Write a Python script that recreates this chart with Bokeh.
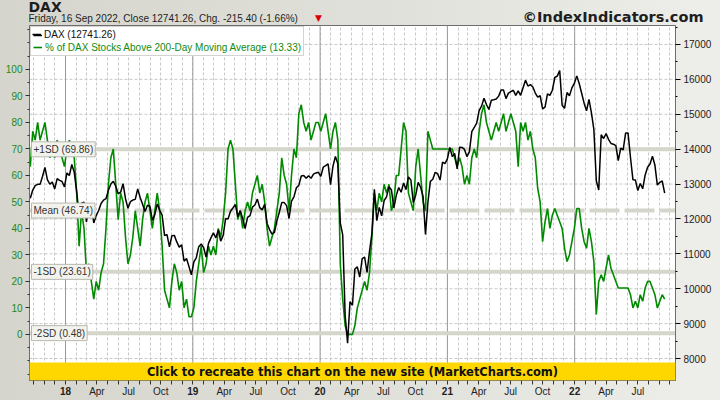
import pandas as pd
from bokeh.plotting import figure
from bokeh.layouts import column
from bokeh.models import (Range1d, LinearAxis, FixedTicker, Span, Label,
                          BoxAnnotation, Legend, LegendItem)
from bokeh.embed import file_html
from bokeh.resources import INLINE
from bokeh.core.properties import value

# ---------------- data (weekly, Fridays, ending 16 Sep 2022) ----------------
last_date = "2022-09-16"

dax_close = [
    # 2017 Sep-Dec
    12592, 12829, 12956, 12992, 12991, 13217, 13479, 13127, 12994, 13060, 12861, 13153, 13104, 13072, 12918,
    # 2018
    13320, 13245, 13560, 13340,
    12785, 12107, 12452, 12483,
    11914, 12346, 12390, 11886, 12097,
    12241, 12442, 12540, 12580,
    12820, 13001, 13077, 12938,
    12724, 12767, 13010, 12580, 12306,
    12496, 12541, 12561, 12860,
    12615, 12424, 12211, 12394, 12364,
    11959, 12124, 12431, 12247,
    12111, 11523, 11553, 11201,
    11519, 11529, 11341, 11193, 11257,
    10788, 10865, 10634, 10400,
    # 2019
    10767, 10887, 11205, 11282,
    11180, 10906, 11299, 11457,
    11602, 11458, 11686, 11364, 11526,
    12010, 11999, 12222, 12315,
    12413, 12060, 12239, 12011, 11727,
    12045, 12096, 12340, 12399,
    12568, 12323, 12260, 12419,
    11872, 11694, 11563, 11612, 11939,
    12192, 12469, 12468, 12381,
    12013, 12512, 12634, 12895,
    12962, 13229, 13242, 13164, 13236,
    13166, 13283, 13319, 13337,
    # 2020
    13219, 13483, 13526, 13577, 12982,
    13514, 13790, 13579, 11890,
    11542, 9232, 8442, 9633,
    9525, 10565, 10626, 10336,
    10861, 10904, 10465, 11074, 11587,
    12848, 11949, 12331, 12089,
    12528, 12633, 12920, 12838, 12313,
    12675, 12901, 12765, 13033,
    12842, 13203, 13116, 12469,
    12689, 13051, 12909, 12646, 11556,
    12480, 13077, 13137, 13335,
    13298, 13114, 13630, 13587,
    # 2021
    13719, 14049, 13787, 13873, 13433,
    14056, 14050, 13993, 13786,
    13920, 14502, 14621, 14749,
    15107, 15234, 15460, 15280, 15136,
    15400, 15417, 15437, 15520,
    15693, 15693, 15448, 15607,
    15650, 15688, 15540, 15669, 15544,
    15761, 15977, 15808, 15852,
    15781, 15609, 15490, 15531,
    15156, 15206, 15587, 15542, 15688,
    16054, 16094, 16250, 15257,
    15170, 15623, 15532, 15756, 15885,
    # 2022
    16100, 15883, 15603, 15318,
    15100, 15425, 15042, 14567,
    13094, 12831, 14413, 14305,
    14446, 14283, 14164, 14142, 14098,
    13674, 14027, 13982, 14462,
    14460, 13762, 13126, 13118,
    12813, 13015, 12864, 13254, 13484,
    13573, 13795, 13544, 12971,
    13050, 13088, 12741.26,
]

pct_above = [
    # 2017 Sep-Dec
    63.33, 76.67, 73.33, 80, 73.33, 76.67, 80, 73.33, 66.67, 70, 66.67, 73.33, 70, 66.67, 63.33,
    # 2018
    70, 73.33, 70, 66.67,
    53.33, 33.33, 46.67, 40,
    23.33, 26.67, 20, 13.33, 20,
    16.67, 23.33, 26.67, 40,
    56.67, 66.67, 70, 56.67,
    43.33, 53.33, 50, 36.67, 26.67,
    30, 36.67, 46.67, 40,
    33.33, 43.33, 50, 53.33, 46.67,
    40, 46.67, 53.33, 46.67,
    33.33, 16.67, 13.33, 10,
    20, 26.67, 23.33, 16.67, 20,
    10, 13.33, 6.67, 6.67,
    # 2019
    10, 20, 26.67, 33.33,
    23.33, 26.67, 33.33, 30,
    33.33, 30, 40, 36.67, 43.33,
    53.33, 70, 73.33, 70,
    56.67, 43.33, 46.67, 40, 46.67,
    50, 46.67, 53.33, 56.67,
    60, 53.33, 56.67, 50,
    40, 33.33, 36.67, 40, 46.67,
    53.33, 66.67, 60, 56.67,
    46.67, 60, 70, 66.67,
    83.33, 86.67, 80, 76.67, 80,
    73.33, 76.67, 80, 80,
    # 2020
    76.67, 80, 83.33, 76.67, 70,
    76.67, 80, 73.33, 26.67,
    13.33, 3.33, 0, 0,
    0, 3.33, 10, 13.33,
    16.67, 20, 16.67, 23.33, 36.67,
    53.33, 46.67, 53.33, 50,
    56.67, 53.33, 56.67, 46.67, 50,
    60, 60, 70, 80,
    76.67, 53.33, 50, 46.67,
    63.33, 70, 60, 50, 46.67,
    76.67, 73.33, 70, 70,
    70, 70, 70, 70,
    # 2021
    70, 70, 70, 66.67, 63.33,
    66.67, 63.33, 56.67, 60,
    56.67, 66.67, 70, 66.67,
    76.67, 83.33, 86.67, 80, 76.67,
    73.33, 76.67, 80, 76.67,
    80, 83.33, 76.67, 80,
    83.33, 80, 76.67, 63.33, 80,
    76.67, 80, 73.33, 76.67,
    70, 66.67, 55, 50,
    35, 42.5, 47.5, 40, 45,
    47.5, 45, 42.5, 40,
    32.5, 27.5, 30, 35, 40,
    # 2022
    47.5, 47.5, 40, 35,
    32.5, 40, 35, 27.5,
    7.5, 20, 22.5, 20,
    25, 30, 25, 22.5, 20,
    17.5, 17.5, 17.5, 17.5,
    17.5, 15, 10, 12.5,
    10, 15, 12.5, 17.5, 20,
    20, 17.5, 15, 10,
    12.5, 15, 13.33,
]

sd_levels = [69.86, 46.74, 23.61, 0.48]
sd_labels = ["+1SD (69.86)", "Mean (46.74)", "-1SD (23.61)", "-2SD (0.48)"]
pct_ticks = [0, 10, 20, 30, 40, 50, 60, 70, 80, 90, 100]
price_ticks = [8000, 9000, 10000, 11000, 12000, 13000, 14000, 15000, 16000, 17000]
month_names = {4: "Apr", 7: "Jul", 10: "Oct"}

title_text = "DAX"
subtitle_text = "Friday, 16 Sep 2022, Close 12741.26, Chg. -215.40 (-1.66%)"
credit_text = "\u00a9IndexIndicators.com"
banner_text = "Click to recreate this chart on the new site (MarketCharts.com)"
legend_dax = "DAX (12741.26)"
legend_pct = "% of DAX Stocks Above 200-Day Moving Average (13.33)"

# ---------------- helpers ----------------
def fy(d):
    d = pd.Timestamp(d)
    s = pd.Timestamp(d.year, 1, 1)
    e = pd.Timestamp(d.year + 1, 1, 1)
    return d.year + (d - s) / (e - s)

dax_x = [fy(d) for d in pd.date_range(end=last_date, periods=len(dax_close), freq="W-FRI")]
pct_x = [fy(d) for d in pd.date_range(end=last_date, periods=len(pct_above), freq="W-FRI")]

X0, X1 = 2017.717, 2022.792
PCT_RANGE = (-17.4, 116.6)
PRICE_RANGE = (7370, 17544)
BANNER_TOP = 7885

months = []
for yr in range(2017, 2023):
    for m in range(1, 13):
        v = fy(pd.Timestamp(yr, m, 1))
        if X0 < v < X1:
            months.append((yr, m, v))
month_ticks = [v for _, _, v in months]
year_ticks = [v for _, m, v in months if m == 1]

W = 720
BL, BR = 29, 45
FW, FH = W - BL - BR, 355
HEAD_H, BOT_B, FOOT_H = 25, 6, 14
FONT = "Liberation Sans"
BOLD = "DejaVu Sans"
BG_CSS = {"background": "linear-gradient(to right, #d5d5cd 0%, #e1e1db 55%, #eeeeea 100%)"}

# ---------------- header strip ----------------
head = figure(width=W, height=HEAD_H, x_range=Range1d(0, W), y_range=Range1d(HEAD_H, 0),
              min_border=0, x_axis_location=None, y_axis_location=None,
              output_backend="svg", toolbar_location=None, title=None)
head.frame_align = False
head.grid.visible = False
head.outline_line_color = None
head.background_fill_alpha = 0
head.border_fill_alpha = 0
head.styles = BG_CSS
head.text(x=[28], y=[6.5], text=[title_text], text_baseline="middle",
          text_font=value(BOLD), text_font_style="bold", text_font_size="14px",
          text_color="#1e1e1e")
head.text(x=[28], y=[17.5], text=[subtitle_text], text_baseline="middle",
          text_font=value(FONT), text_font_size="10px", text_color="#1e1e1e")
head.text(x=[318], y=[17.5], text=["\u25bc"], text_baseline="middle", text_align="center",
          text_font=value(BOLD), text_font_size="9px", text_color="#dd0000")
head.text(x=[703], y=[16.5], text=[credit_text], text_baseline="middle", text_align="right",
          text_font=value(BOLD), text_font_style="bold", text_font_size="14.5px",
          text_color="#1e1e1e")

# ---------------- main chart ----------------
p = figure(frame_width=FW, frame_height=FH,
           min_border_left=BL, min_border_right=BR, min_border_top=0, min_border_bottom=BOT_B,
           x_range=Range1d(X0, X1), y_range=Range1d(*PCT_RANGE),
           output_backend="svg", toolbar_location=None, title=None)
p.extra_y_ranges = {"price": Range1d(*PRICE_RANGE)}
p.border_fill_alpha = 0
p.styles = BG_CSS
p.background_fill_color = "#ffffff"
p.outline_line_color = "#6e6e6e"

# grids
p.ygrid.visible = False
p.xgrid.ticker = FixedTicker(ticks=month_ticks)
p.xgrid.grid_line_color = "#c8c8c8"
p.xgrid.grid_line_dash = "3 2"
for v in price_ticks:
    p.add_layout(Span(location=v, dimension="width", y_range_name="price",
                      line_color="#c8c8c8", line_dash="3 2", line_width=1, level="underlay"))
for v in year_ticks:
    p.add_layout(Span(location=v, dimension="height", line_color="#9a9a9a",
                      line_width=1, level="underlay"))
for lvl, lab in zip(sd_levels, sd_labels):
    p.add_layout(Span(location=lvl, dimension="width", line_color="#d5d5cc", line_width=4,
                      line_dash="30 5" if lab.startswith("Mean") else "solid", level="underlay"))

# axes
xa = p.xaxis[0]
xa.ticker = FixedTicker(ticks=[], minor_ticks=month_ticks)
xa.major_label_standoff = 0
xa.minor_tick_out = 4
xa.minor_tick_in = 0
xa.major_tick_out = 4
xa.major_tick_in = 0
xa.axis_line_color = "#6e6e6e"
xa.minor_tick_line_color = "#333333"

ya = p.yaxis[0]
ya.ticker = FixedTicker(ticks=pct_ticks, minor_ticks=list(range(-15, 116, 5)))
ya.major_label_text_color = "#1a8a1a"
ya.major_label_text_font = FONT
ya.major_label_text_font_size = "10px"
ya.major_label_standoff = 3
ya.major_tick_out = 4
ya.major_tick_in = 0
ya.minor_tick_out = 2
ya.minor_tick_in = 0
ya.axis_line_color = "#6e6e6e"
ya.major_tick_line_color = "#333333"
ya.minor_tick_line_color = "#333333"

ra = LinearAxis(y_range_name="price",
                ticker=FixedTicker(ticks=price_ticks, minor_ticks=[t + 500 for t in price_ticks]))
ra.major_label_text_font = FONT
ra.major_label_text_font_size = "10px"
ra.major_label_text_color = "#222222"
ra.major_label_standoff = 3
ra.major_tick_out = 5
ra.major_tick_in = 0
ra.minor_tick_out = 2
ra.minor_tick_in = 0
ra.axis_line_color = "#6e6e6e"
p.add_layout(ra, "right")

# data lines
r_pct = p.line(pct_x, pct_above, line_color="#008a00", line_width=1.6)
r_dax = p.line(dax_x, dax_close, y_range_name="price", line_color="#000000", line_width=1.5)

# SD labels
for lvl, lab in zip(sd_levels, sd_labels):
    p.add_layout(Label(x=2, x_units="screen", y=lvl, text=lab, text_baseline="middle",
                       text_font=FONT, text_font_size="10px", text_color="#333333",
                       background_fill_color="#f3f3ee", border_line_color="#b8b8b0",
                       padding=2))

# banner
p.add_layout(BoxAnnotation(top=BANNER_TOP, y_range_name="price", fill_color="#ffd700",
                           fill_alpha=1, line_color=None))
p.add_layout(Label(x=FW / 2, x_units="screen", y=(BANNER_TOP + PRICE_RANGE[0]) / 2,
                   y_range_name="price", text=banner_text, text_align="center",
                   text_baseline="middle", text_font=BOLD, text_font_style="bold",
                   text_font_size="11.5px", text_color="#111111"))

# legends (one box, two text colours)
common = dict(location="top_left", margin=1, padding=2, spacing=0, label_height=12,
              glyph_height=12, glyph_width=9, label_standoff=3,
              label_text_font=FONT, label_text_font_size="10px")
leg2 = Legend(items=[LegendItem(label=" ", renderers=[r_dax]),
                     LegendItem(label=legend_pct, renderers=[r_pct])],
              label_text_color="#108a10", background_fill_color="#ffffff",
              background_fill_alpha=1, border_line_color="#a8a8a8", **common)
leg1 = Legend(items=[LegendItem(label=legend_dax, renderers=[r_dax])],
              label_text_color="#111111", background_fill_alpha=0,
              border_line_alpha=0, **common)
p.add_layout(leg2, "center")
p.add_layout(leg1, "center")

# ---------------- footer strip: date labels ----------------
lab_x, lab_t, yr_x, yr_t = [], [], [], []
for yr, m, v in months:
    if v < X0 + 0.1 or v > X1 - 0.1:
        continue
    if m == 1:
        yr_x.append(v); yr_t.append(str(yr)[2:])
    elif m in month_names:
        lab_x.append(v); lab_t.append(month_names[m])

foot = figure(width=W, height=FOOT_H, x_range=p.x_range, y_range=Range1d(FOOT_H, 0),
              min_border_left=BL, min_border_right=BR, min_border_top=0, min_border_bottom=0,
              x_axis_location=None, y_axis_location=None,
              output_backend="svg", toolbar_location=None, title=None)
foot.grid.visible = False
foot.outline_line_color = None
foot.background_fill_alpha = 0
foot.border_fill_alpha = 0
foot.styles = BG_CSS
foot.text(x=lab_x, y=[4.5] * len(lab_x), text=lab_t, text_align="center",
          text_baseline="middle", text_font=value(FONT), text_font_size="10px",
          text_color="#222222")
foot.text(x=yr_x, y=[4.5] * len(yr_x), text=yr_t, text_align="center",
          text_baseline="middle", text_font=value(FONT), text_font_style="bold",
          text_font_size="10px", text_color="#222222")

layout = column(head, p, foot, spacing=0)
open("out.html", "w").write(file_html(layout, INLINE))
